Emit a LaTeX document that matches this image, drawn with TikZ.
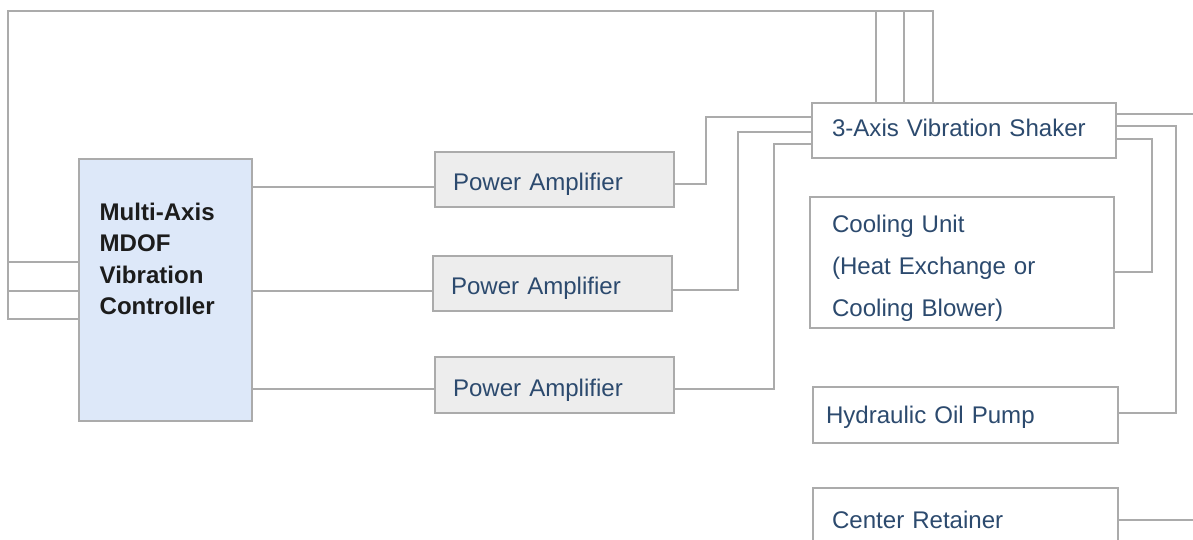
\documentclass[tikz,border=0pt]{standalone}
\usepackage{fontspec}
\setmainfont{Liberation Sans}
\usepackage{tikz}
\usetikzlibrary{positioning,calc}
\definecolor{VInk}{HTML}{1C1C1C}
\definecolor{VText}{HTML}{2C4A6E}
\definecolor{VWire}{HTML}{ABABAB}
\definecolor{VCtrl}{HTML}{DDE8F9}
\definecolor{VAmp}{HTML}{EDEDED}

\begin{document}
\begin{tikzpicture}[
  x=0.02cm, y=-0.02cm,
  every node/.style={font=\fontsize{13.7}{17.6}\selectfont, text=VText},
  box/.style ={draw=VWire, fill=white, line width=0.8pt, align=left,
               minimum height=1.1cm, inner ysep=0pt},
  amp/.style ={box, fill=VAmp, text width=4.06cm, inner xsep=0.36cm,
               text height=0.44cm, text depth=0pt},
  wire/.style={draw=VWire, line width=0.8pt},
]
\useasboundingbox (0,0) rectangle (1193,539);
\clip (0,0) rectangle (1193,539);
\node[box, fill=VCtrl, minimum width=3.46cm, minimum height=5.24cm] (ctrl) at (165.5,290) {};
\node[anchor=north west, inner sep=0pt, align=left, text=VInk,
      font=\fontsize{13.7}{18}\selectfont\bfseries] (ctrltxt)
      at ([xshift=0.42cm, yshift=-0.88cm]ctrl.north west) {Multi-Axis\\MDOF\\Vibration\\Controller};
\node[amp] (amp1) at (554.5,179.5) {Power Amplifier};
\node[amp] (amp2) at (552.5,283.5) {Power Amplifier};
\node[amp, minimum height=1.12cm] (amp3) at (554.5,385) {Power Amplifier};
\node[box, text width=5.28cm, inner xsep=0.4cm, text height=0.25cm, text depth=0pt] (shaker)
      at (964,130.5) {3-Axis Vibration Shaker};
\node[box, text width=5.2cm, inner xsep=0.44cm, minimum height=2.62cm,
      font=\fontsize{13.7}{23.9}\selectfont] (cool)
      at (962,262.5) {\rule{0pt}{0.59cm}Cooling Unit\\(Heat Exchange or\\Cooling Blower)};
\node[box, text width=5.58cm, inner xsep=0.26cm, minimum height=1.12cm,
      text height=0.34cm, text depth=0pt] (pump) at (965.5,415) {Hydraulic Oil Pump};
\node[box, text width=5.34cm, inner xsep=0.38cm, minimum height=1.12cm,
      text height=0.49cm, text depth=0pt] (retain) at (965.5,516) {Center Retainer};
\coordinate (outA) at (1193,114);
\coordinate (outB) at (1193,520);
% feedback from shaker back to controller
\foreach \xs/\ys in {933/262, 876/291, 904/319}
  \draw[wire] (shaker.north -| \xs,0) |- (8,11) |- (ctrl.west |- 0,\ys);
% drive signals
\foreach \a/\ys in {amp1/187, amp2/291, amp3/389}
  \draw[wire] (ctrl.east |- 0,\ys) -- (\a.west |- 0,\ys);
\foreach \a/\yo/\xm/\yi in {amp1/184/706/117, amp2/290/738/132, amp3/389/774/144}
  \draw[wire] (\a.east |- 0,\yo) -| (\xm,\yi) -- (shaker.west |- 0,\yi);
% auxiliaries
\draw[wire] (shaker.east |- outA) -- (outA);
\draw[wire] (shaker.east |- 0,126) -| (1176,413) -- (pump.east |- 0,413);
\draw[wire] (shaker.east |- 0,139) -| (1152,272) -- (cool.east |- 0,272);
\draw[wire] (retain.east |- outB) -- (outB);
\end{tikzpicture}
\end{document}
